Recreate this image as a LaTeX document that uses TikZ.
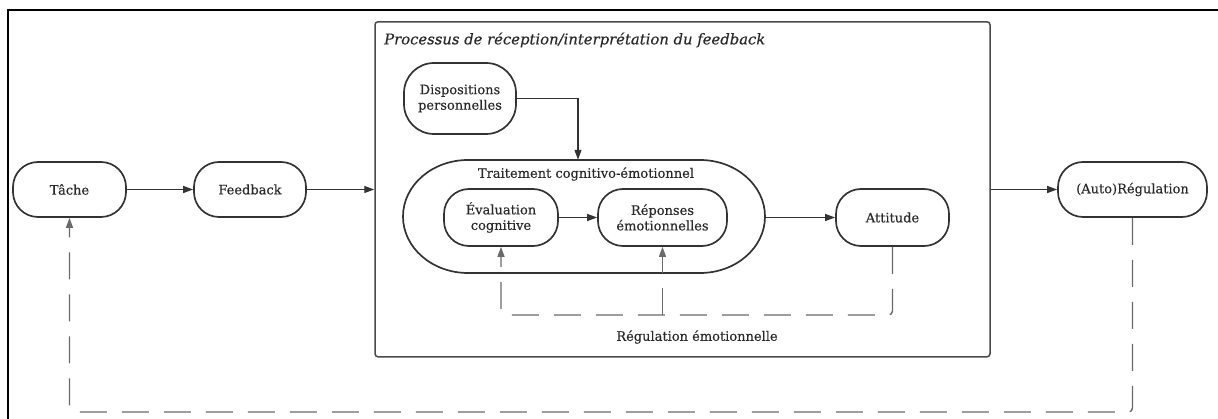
\documentclass[tikz,border=0pt]{standalone}
\usepackage{fontspec}
\setmainfont{DejaVu Serif}[FakeBold=0.35]
\usetikzlibrary{arrows.meta}
\definecolor{edge}{HTML}{333333}
\definecolor{ink}{HTML}{2A2A2A}
\definecolor{dashgray}{HTML}{6A6A6A}
\definecolor{framegray}{HTML}{4A4A4A}
\begin{document}
\begin{tikzpicture}[x=1pt,y=-1pt,
  box/.style={draw=edge, line width=1.7pt, rounded corners=25pt, align=center,
    text=ink, inner sep=0pt, font=\fontsize{13}{15.5}\selectfont},
  arr/.style={draw=edge, line width=1.2pt, -{Triangle[length=10pt,width=7pt]}},
  dasharr/.style={draw=dashgray, line width=1.4pt, dash pattern=on 27pt off 15pt,
    rounded corners=4pt, -{Triangle[length=10pt,width=7pt]}},
  lbl/.style={text=ink, inner sep=0pt, font=\fontsize{13}{15.5}\selectfont}]
\useasboundingbox (0,0) rectangle (1218,419);
\clip (0,0) rectangle (1218,419);

% outer frame (runs off the right and bottom edges)
\draw[line width=2.2pt, black] (8,10) rectangle (1240,440);

% main chain
\node[box, minimum width=113pt, minimum height=55pt] (tache) at (69.5,189.5) {Tâche};
\node[box, minimum width=112pt, minimum height=55pt] (feedback) at (250,189.5) {Feedback};
\node[box, minimum width=149pt, minimum height=55pt] (autoreg) at (1132.5,189.5) {(Auto)Régulation};

% reception / interpretation process
\node[draw=framegray, line width=1.5pt, rounded corners=3pt, minimum width=615pt,
  minimum height=335pt, inner sep=0pt] (proc) at (682.5,189.3) {};
\node[lbl, anchor=west, font=\itshape\fontsize{14.8}{17}\selectfont] (proctitle) at (384,40)
  {Processus de réception/interprétation du feedback};

\node[box, rounded corners=30pt, minimum width=112pt, minimum height=71pt] (disp) at (460,98.5)
  {Dispositions\\personnelles};

% cognitive-emotional processing container
\node[minimum width=362pt, minimum height=113pt, inner sep=0pt] (trait) at (584,216.5) {};
\draw[edge, line width=1.7pt] (468,160) -- (700,160)
  arc[start angle=-90, end angle=90, x radius=65, y radius=56.5]
  -- (468,273)
  arc[start angle=90, end angle=270, x radius=65, y radius=56.5] -- cycle;
\node[lbl] (traitlabel) at (586,174) {Traitement cognitivo-émotionnel};

\node[box, minimum width=114pt, minimum height=57pt] (eval) at (501,217.5) {Évaluation\\cognitive};
\node[box, minimum width=129pt, minimum height=57pt] (rep) at (662.5,217.5) {Réponses\\émotionnelles};
\node[box, minimum width=113pt, minimum height=57pt] (att) at (892.5,217.5) {Attitude};

\node[lbl] (reglabel) at (697,337) {Régulation émotionnelle};

% helper levels for the feedback loops
\coordinate (regline) at (0,315);
\coordinate (loopline) at (0,412);

% solid connectors
\draw[arr] (tache) -- (feedback);
\draw[arr] (feedback.east) -- (feedback.east -| proc.west);
\draw[arr] (proc.east |- autoreg.west) -- (autoreg.west);
\draw[arr] (disp.east) -| ([xshift=-6pt]trait.north);
\draw[arr] (eval) -- (rep);
\draw[arr] (trait.east |- att.west) -- (att.west);

% emotional regulation loop
\draw[dasharr] (att.south) -- (att.south |- regline) -| (eval.south);
\draw[dasharr] (rep.south |- regline) -- (rep.south);

% self-regulation loop back to the task
\draw[dasharr] (autoreg.south) -- (autoreg.south |- loopline) -| (tache.south);
\end{tikzpicture}
\end{document}
